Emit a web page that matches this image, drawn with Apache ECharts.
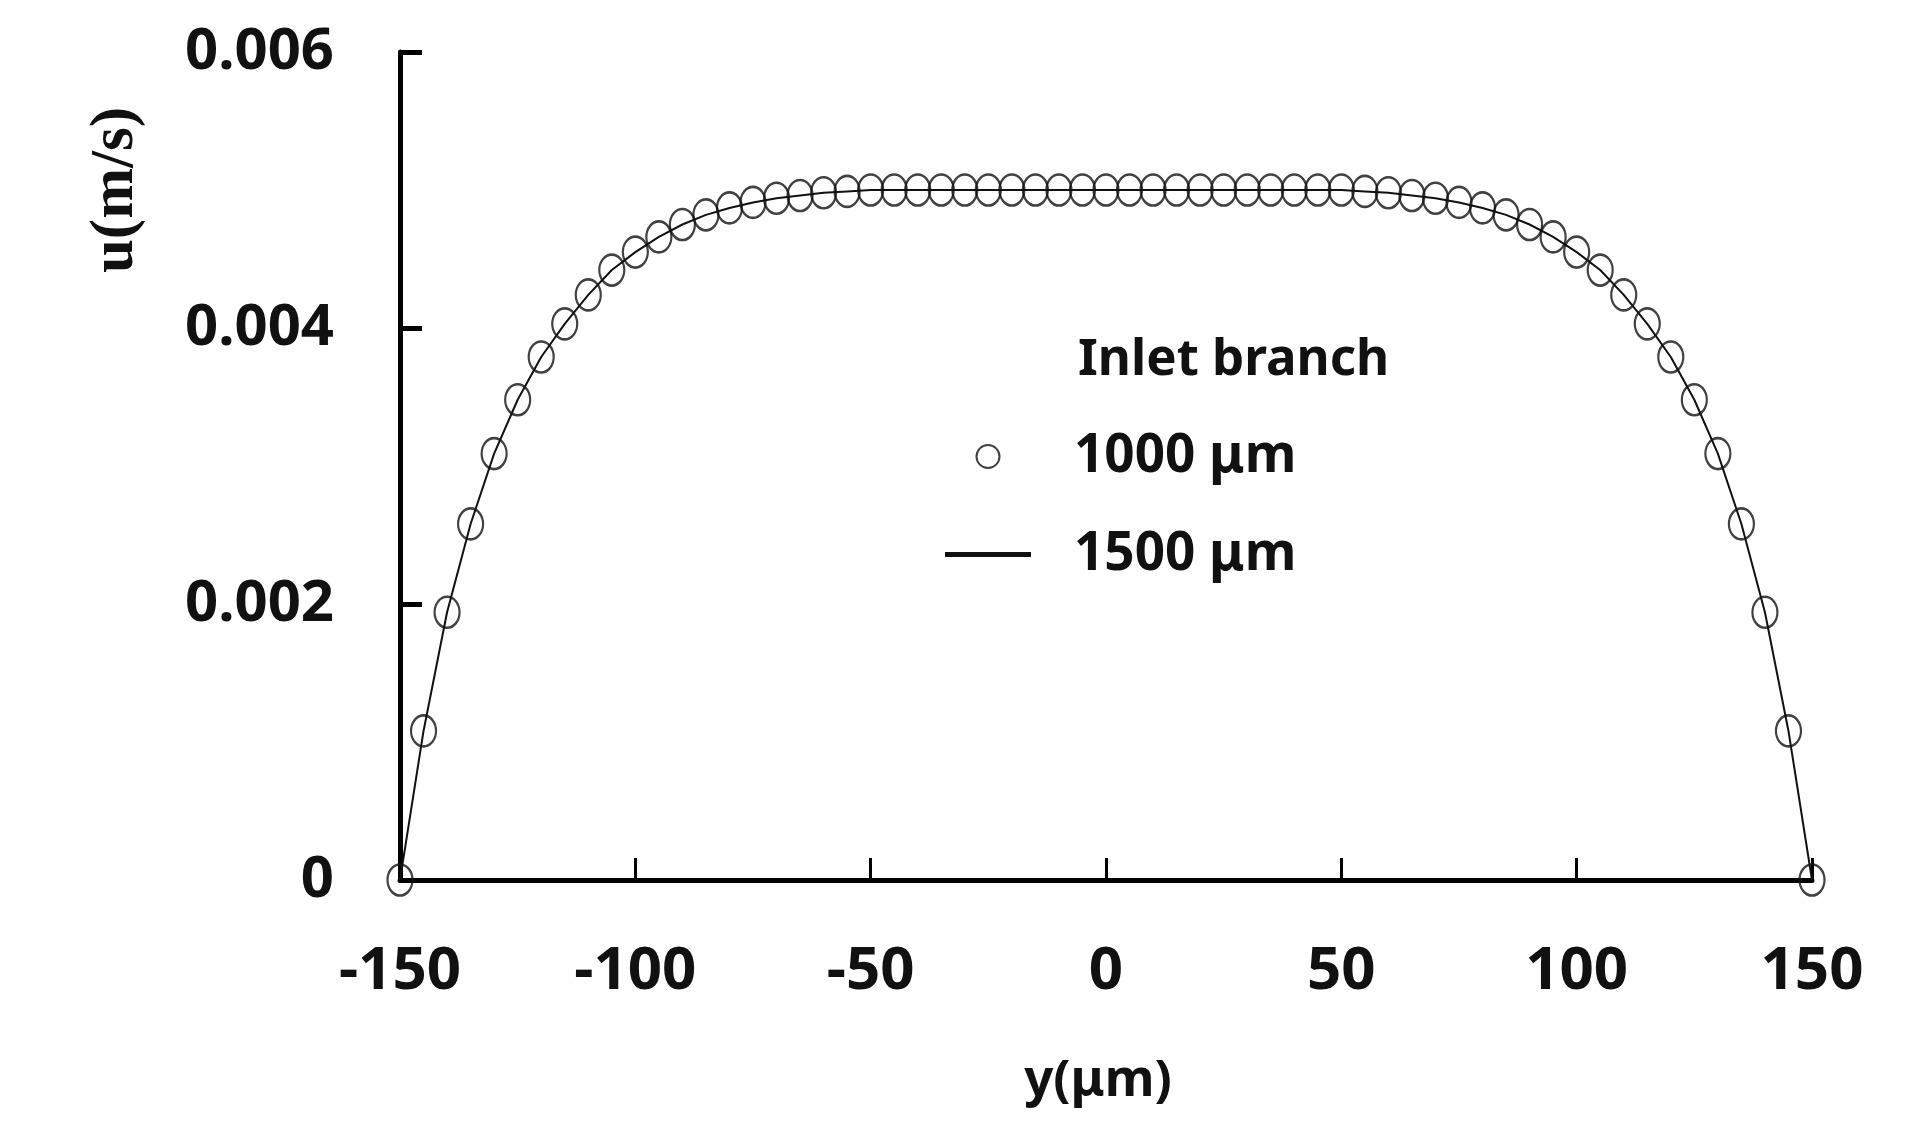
<!DOCTYPE html>
<html>
<head>
<meta charset="utf-8">
<script src="https://cdn.jsdelivr.net/npm/echarts@6/dist/echarts.min.js"></script>
<style>
html,body{margin:0;padding:0;background:#fff;}
#chart{width:1912px;height:1134px;}
</style>
</head>
<body>
<div id="chart"></div>
<script>
var yPositions = [-150,-145,-140,-135,-130,-125,-120,-115,-110,-105,-100,-95,-90,-85,-80,-75,-70,-65,-60,-55,-50,-45,-40,-35,-30,-25,-20,-15,-10,-5,0,5,10,15,20,25,30,35,40,45,50,55,60,65,70,75,80,85,90,95,100,105,110,115,120,125,130,135,140,145,150];
var u1000 = [0,0.00108,0.00194,0.00258,0.00309,0.00348,0.00379,0.00403,0.00424,0.00442,0.00455,0.00466,0.00475,0.00482,0.00487,0.00491,0.00494,0.00496,0.00498,0.00499,0.00500,0.00500,0.00500,0.00500,0.00500,0.00500,0.00500,0.00500,0.00500,0.00500,0.00500,0.00500,0.00500,0.00500,0.00500,0.00500,0.00500,0.00500,0.00500,0.00500,0.00500,0.00499,0.00498,0.00496,0.00494,0.00491,0.00487,0.00482,0.00475,0.00466,0.00455,0.00442,0.00424,0.00403,0.00379,0.00348,0.00309,0.00258,0.00194,0.00108,0];
var u1500 = [0,0.00108,0.00194,0.00258,0.00309,0.00348,0.00379,0.00403,0.00424,0.00442,0.00455,0.00466,0.00475,0.00482,0.00487,0.00491,0.00494,0.00496,0.00498,0.00499,0.00500,0.00500,0.00500,0.00500,0.00500,0.00500,0.00500,0.00500,0.00500,0.00500,0.00500,0.00500,0.00500,0.00500,0.00500,0.00500,0.00500,0.00500,0.00500,0.00500,0.00500,0.00499,0.00498,0.00496,0.00494,0.00491,0.00487,0.00482,0.00475,0.00466,0.00455,0.00442,0.00424,0.00403,0.00379,0.00348,0.00309,0.00258,0.00194,0.00108,0];
var xTicks = [-150,-100,-50,0,50,100,150];
var yTicks = [0,0.002,0.004,0.006];
var seriesNames = ['1000 μm','1500 μm'];
var legendTitle = 'Inlet branch';
var xAxisTitle = 'y(μm)';
var yAxisTitle = 'u(m/s)';

function pairs(xs, ys){ return xs.map(function(x,i){ return [x, ys[i]]; }); }

var ellipse = 'path://M12,0A12,15 0 1,1 12,30A12,15 0 1,1 12,0Z';
var bar = 'path://M0,0H86V5H0Z';
var FONT = 'Noto Sans';

var chart = echarts.init(document.getElementById('chart'), null, {renderer:'canvas'});
chart.setOption({
  backgroundColor:'#fff',
  animation:false,
  grid:{left:400,right:100,top:52,bottom:254,containLabel:false},
  title:{text:legendTitle,left:1073,top:330,textStyle:{fontFamily:FONT,fontWeight:'bold',fontSize:51,color:'#111'}},
  legend:{
    orient:'vertical',left:940,top:425,itemWidth:86,itemHeight:23,itemGap:45,
    data:[{name:seriesNames[0],icon:'circle'},{name:seriesNames[1],icon:bar}],
    textStyle:{fontFamily:FONT,fontWeight:'bold',fontSize:53,color:'#111',padding:[0,0,0,38]},
    symbolKeepAspect:true
  },
  xAxis:{
    type:'value',min:xTicks[0],max:xTicks[xTicks.length-1],interval:50,
    name:xAxisTitle,nameLocation:'middle',nameGap:176,
    nameTextStyle:{fontFamily:FONT,fontWeight:'bold',fontSize:51,color:'#111',padding:[0,16,0,0]},
    axisLine:{onZero:false,lineStyle:{color:'#000',width:5}},
    axisTick:{inside:true,length:22,lineStyle:{color:'#000',width:3}},
    axisLabel:{margin:62,fontFamily:FONT,fontWeight:'bold',fontSize:60,color:'#111'},
    splitLine:{show:false}
  },
  yAxis:{
    type:'value',min:yTicks[0],max:yTicks[yTicks.length-1],interval:0.002,
    axisLine:{show:true,onZero:false,lineStyle:{color:'#000',width:5}},
    axisTick:{show:true,inside:true,length:22,lineStyle:{color:'#000',width:5}},
    axisLabel:{margin:66,fontFamily:FONT,fontWeight:'bold',fontSize:58,color:'#111',
      formatter:function(v){ return v===0 ? '0' : v.toFixed(3); }},
    splitLine:{show:false}
  },
  graphic:[{type:'text',left:86,top:107,rotation:Math.PI/2,
    style:{text:yAxisTitle,font:'bold 61px "Liberation Serif"',fill:'#111'}}],
  series:[
    {name:seriesNames[0],type:'scatter',data:pairs(yPositions,u1000),symbol:ellipse,symbolSize:[25,31],
     itemStyle:{color:'rgba(255,255,255,0)',borderColor:'#111',borderWidth:2.4},z:3},
    {name:seriesNames[1],type:'line',data:pairs(yPositions,u1500),symbol:'none',
     lineStyle:{color:'#111',width:2},itemStyle:{color:'#111'},z:2}
  ]
});
</script>
</body>
</html>
